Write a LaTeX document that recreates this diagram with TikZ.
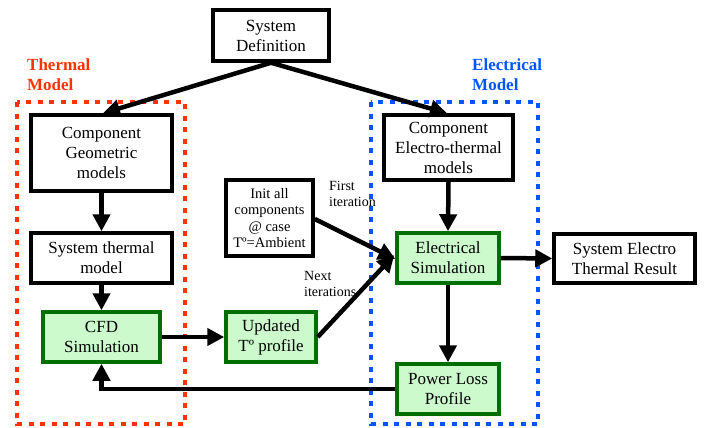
\documentclass[tikz,border=0pt]{standalone}
\usepackage{fontspec}
\setmainfont{Liberation Serif}
\usetikzlibrary{arrows.meta}
\definecolor{tred}{RGB}{255,51,0}
\definecolor{eblue}{RGB}{0,85,255}
\definecolor{gborder}{RGB}{0,110,0}
\definecolor{gfill}{RGB}{204,250,204}
\tikzset{
  box/.style={draw=black, line width=3.5pt, fill=white, inner sep=0pt, align=center,
    font=\fontsize{17}{20}\selectfont},
  gbox/.style={box, draw=gborder, fill=gfill},
  smallbox/.style={box, font=\fontsize{14.5}{16.5}\selectfont},
  lbl/.style={align=left, inner sep=0pt, font=\fontsize{14}{16.5}\selectfont, anchor=north west},
  grp/.style={line width=4pt, dash pattern=on 5pt off 6.5pt},
  grplbl/.style={align=left, inner sep=0pt, anchor=north west, font=\fontsize{17}{20}\selectfont\bfseries},
  arr/.style={line width=4.5pt, -{Triangle[length=17pt 0 0,width=17pt 0 0]}},
}
\begin{document}
\begin{tikzpicture}[x=1pt,y=-1pt]
\useasboundingbox (0,0) rectangle (704,428);
% group frames
\draw[grp, tred] (17,102) rectangle (185,424);
\draw[grp, eblue] (371,102) rectangle (538,424);
\node[grplbl, text=tred] (tlbl) at (27,59) {Thermal\\Model};
\node[grplbl, text=eblue] (elbl) at (472,59) {Electrical\\Model};
% nodes
\node[box, minimum width=116pt, minimum height=51pt] (sys) at (271,35.5) {System\\Definition};
\node[box, minimum width=141pt, minimum height=76pt] (geom) at (101.5,153) {Component\\Geometric\\models};
\node[box, minimum width=141pt, minimum height=50pt] (sth) at (101.5,258) {System thermal\\model};
\node[gbox, minimum width=117pt, minimum height=50pt] (cfd) at (101.5,337) {CFD\\Simulation};
\node[gbox, minimum width=90pt, minimum height=50pt] (upd) at (271,337) {Updated\\Tº profile};
\node[smallbox, minimum width=87pt, minimum height=76pt] (init) at (269.5,218) {Init all\\components\\@ case\\Tº=Ambient};
\node[box, minimum width=129pt, minimum height=65pt] (cet) at (448.5,147.5) {Component\\Electro-thermal\\models};
\node[gbox, minimum width=102pt, minimum height=50pt] (esim) at (448,258) {Electrical\\Simulation};
\node[gbox, minimum width=102pt, minimum height=50pt] (ploss) at (448,389) {Power Loss\\Profile};
\node[box, minimum width=141pt, minimum height=49pt] (res) at (624.5,258.5) {System Electro\\Thermal Result};
% labels
\node[lbl] (first) at (329,181) {First\\iteration};
\node[lbl] (next) at (304,271) {Next\\iterations};
% connectors
\draw[arr] (sys.south) -- ([xshift=1.5pt]geom.north);
\draw[arr] (sys.south) -- ([xshift=-1.5pt]cet.north);
\draw[arr] (geom.south) -- (sth.north);
\draw[arr] (sth.south) -- (cfd.north);
\draw[arr] (cfd.east) -- (upd.west);
\draw[arr] ([yshift=-1pt]init.east) -- ([yshift=-1pt]esim.west);
\draw[arr] (upd.east) -- ([yshift=3pt,xshift=-1pt]esim.west);
\draw[arr] (esim.east) -- (res.west);
\draw[arr] (cet.south) -- (esim.north);
\draw[arr] (esim.south) -- (ploss.north);
\draw[arr] (ploss.west) -| (cfd.south);
\end{tikzpicture}
\end{document}
